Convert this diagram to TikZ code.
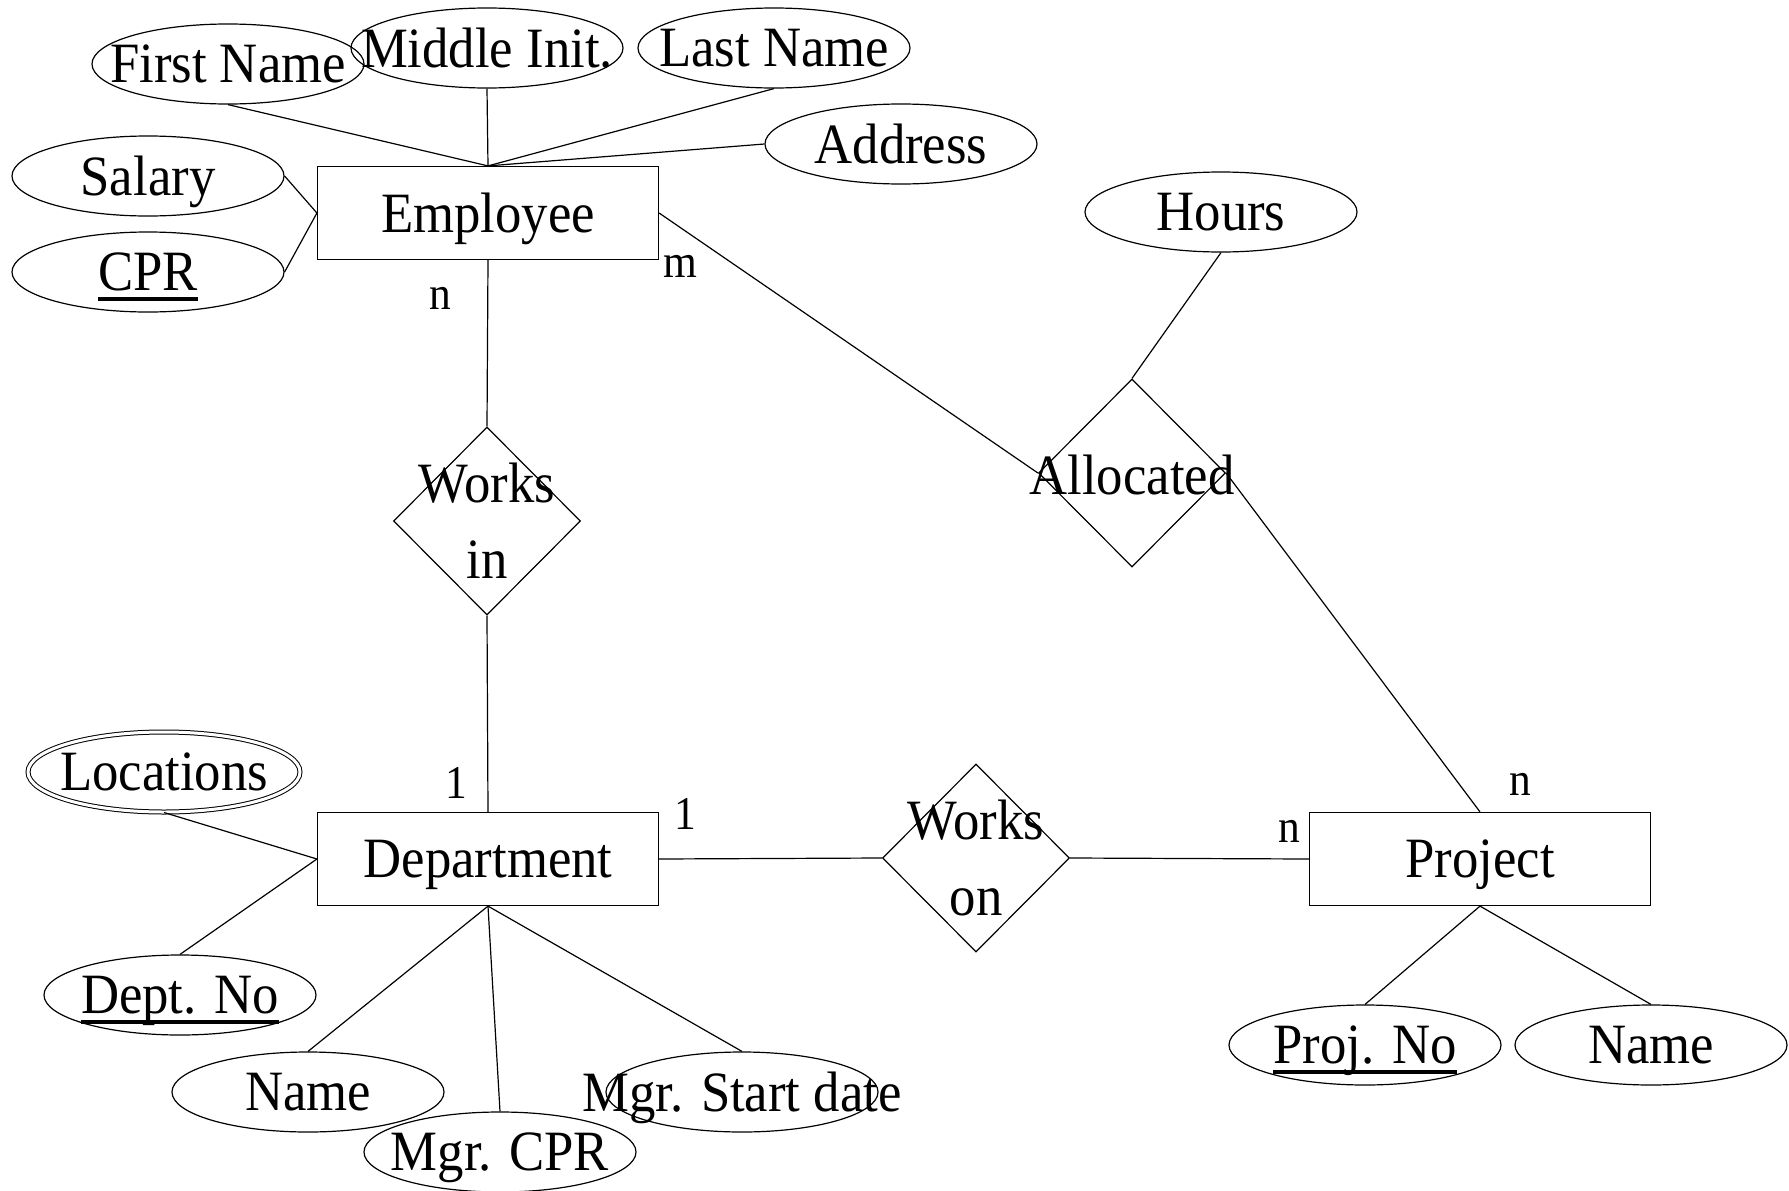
\documentclass[tikz,border=0pt]{standalone}
\usepackage{fontspec}
\setmainfont{Liberation Serif}[FakeStretch=0.925]
\usetikzlibrary{shapes.geometric}

% key attribute: text with a heavy underline
\newcommand\keyattr[1]{\setbox0\hbox{#1}\rlap{\rule[-10pt]{\wd0}{3.6pt}}\box0}

\begin{document}
\begin{tikzpicture}[x=1pt, y=-1pt, line width=1.2pt,
  font=\fontsize{57}{76}\selectfont,
  every label/.style={text depth=0pt},
  entity/.style={draw, rectangle, minimum width=341pt, minimum height=93pt, inner sep=0pt},
  attr/.style={draw, ellipse, minimum width=272pt, minimum height=80pt, inner sep=0pt},
  multiattr/.style={attr, double, double distance=3pt, line width=1pt},
  rel/.style={draw, diamond, minimum width=187pt, minimum height=188pt, inner sep=0pt},
  card/.style={font=\fontsize{47}{50}\selectfont, inner sep=0pt}]
\useasboundingbox (0,0) rectangle (1789,1191);

% entities
\node[entity, label=center:Employee]   (emp)  at (488,213) {};
\node[entity, label=center:Department] (dept) at (488,859) {};
\node[entity, label=center:Project]    (proj) at (1480,859) {};

% relationships
\node[rel, label={[align=center]center:Works\\in}] (wi)    at (487,521) {};
\node[rel, label={[align=center]center:Works\\on}] (won)   at (976,858) {};
\node[rel, label={[yshift=-2pt]center:Allocated}]  (alloc) at (1132,473) {};

% attributes
\node[attr, label=center:First Name]   (fn)    at (228,64) {};
\node[attr, label=center:Middle Init.] (mi)    at (487,48) {};
\node[attr, label=center:Last Name]    (ln)    at (774,48) {};
\node[attr, label=center:Address]      (addr)  at (901,144) {};
\node[attr, label=center:Salary]       (sal)   at (148,176) {};
\node[attr, label=center:{\keyattr{CPR}}] (cpr) at (148,272) {};
\node[attr, label=center:Hours]        (hours) at (1221,212) {};
\node[multiattr, label=center:Locations] (loc) at (164,772) {};
\node[attr, label=center:{\keyattr{Dept. No}}] (dno) at (180,995) {};
\node[attr, label=center:Name]         (dname) at (308,1092) {};
\node[attr]                            (mstart) at (742,1092) {};
\node[attr, label=center:Mgr. CPR]     (mcpr)  at (500,1152) {};
\node[text depth=0pt] (mstart-t) at (mstart.center) {Mgr. Start date};
\node[attr, label=center:{\keyattr{Proj. No}}] (pno) at (1365,1045) {};
\node[attr, label=center:Name]         (pname) at (1651,1045) {};

% attribute links
\draw (fn.south) -- (emp.north);
\draw (mi.south) -- (emp.north);
\draw (ln.south) -- (emp.north);
\draw (addr.west) -- (emp.north);
\draw (sal.east) -- (emp.west);
\draw (cpr.east) -- (emp.west);
\draw (hours.south) -- (alloc.north);
\draw (loc.south) -- (dept.west);
\draw (dno.north) -- (dept.west);
\draw (dname.north) -- (dept.south);
\draw (mcpr.north) -- (dept.south);
\draw (mstart.north) -- (dept.south);
\draw (pno.north) -- (proj.south);
\draw (pname.north) -- (proj.south);

% relationship links
\draw (emp.south) -- (wi.north);
\draw (wi.south) -- (dept.north);
\draw (emp.east) -- (alloc.west);
\draw (alloc.east) -- (proj.north);
\draw (dept.east) -- (won.west);
\draw (won.east) -- (proj.west);

% cardinalities
\node[card] (c1) at (440,298) {n};
\node[card] (c2) at (680,266) {m};
\node[card] (c3) at (456,783) {1};
\node[card] (c4) at (685,814) {1};
\node[card] (c5) at (1520,784) {n};
\node[card] (c6) at (1289,831) {n};
\end{tikzpicture}
\end{document}
